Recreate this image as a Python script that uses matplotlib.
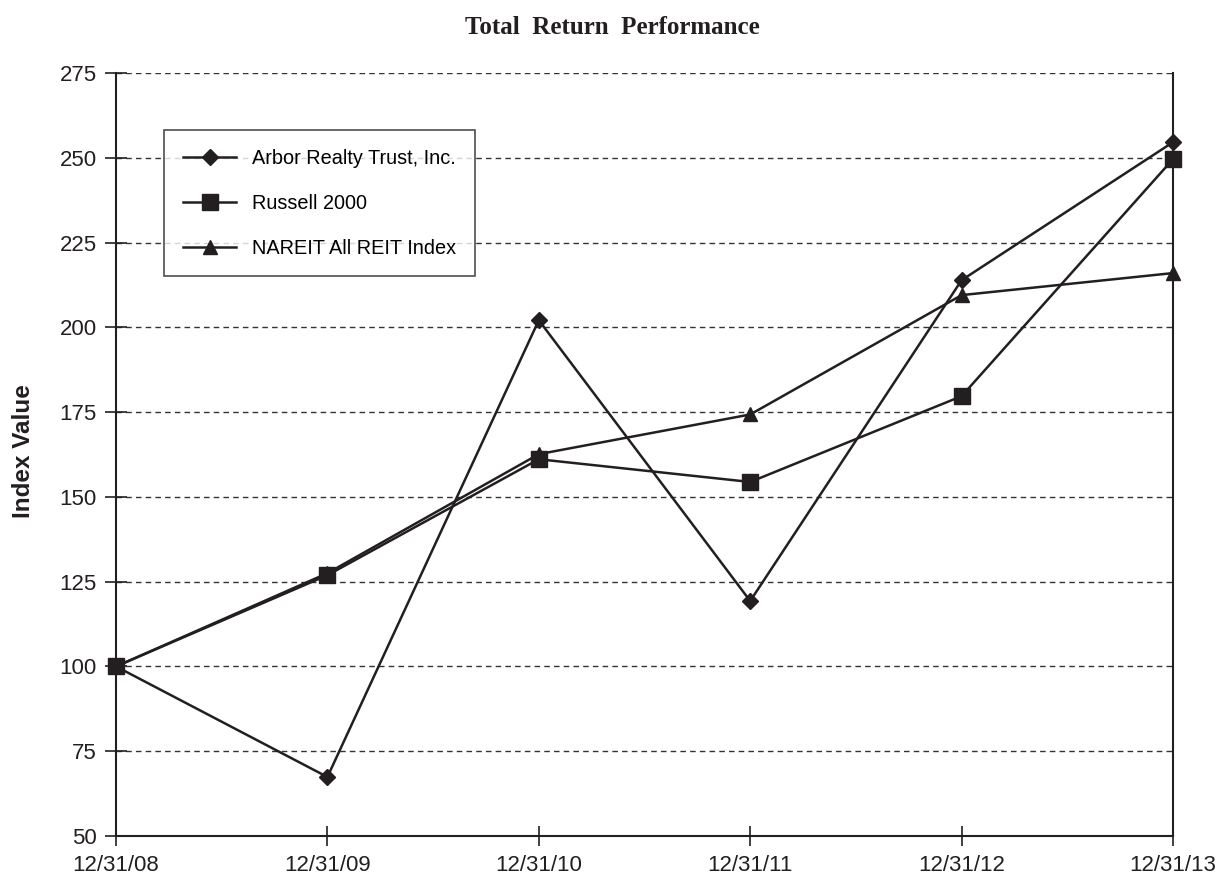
import matplotlib
matplotlib.use("Agg")
import matplotlib.pyplot as plt

dates = ["12/31/08", "12/31/09", "12/31/10", "12/31/11", "12/31/12", "12/31/13"]
arbor = [100, 67.4, 202.1, 119.3, 213.9, 254.6]
russell = [100, 126.9, 161.1, 154.4, 179.7, 249.6]
nareit = [100, 127.5, 162.6, 174.3, 209.5, 216.0]
yticks = [50, 75, 100, 125, 150, 175, 200, 225, 250, 275]

ink = "#231f20"
plt.rcParams['font.family'] = ['Liberation Sans', 'DejaVu Sans']

fig = plt.figure(figsize=(12.2, 8.75), dpi=100)
ax = fig.add_axes([116/1220, 1-836/875, 1057/1220, 763/875])

x = list(range(len(dates)))
ax.plot(x, arbor, color=ink, lw=1.8, marker='D', ms=8.5, label="Arbor Realty Trust, Inc.", clip_on=False, zorder=3)
ax.plot(x, russell, color=ink, lw=1.8, marker='s', ms=11, label="Russell 2000", clip_on=False, zorder=3)
ax.plot(x, nareit, color=ink, lw=1.8, marker='^', ms=10.5, label="NAREIT All REIT Index", clip_on=False, zorder=3)

ax.set_xlim(0, 5)
ax.set_ylim(50, 275)
ax.set_xticks(x)
ax.set_xticklabels(dates)
ax.set_yticks(yticks)
ax.tick_params(axis='both', labelsize=16, colors=ink, direction='inout', width=1.2)
ax.tick_params(axis='x', length=14, pad=6.5)
ax.tick_params(axis='y', length=16, pad=6)

for y in yticks[1:]:
    ax.axhline(y, color='#333333', lw=1.0, ls=(0, (4, 3)), zorder=1)

ax.spines['top'].set_visible(False)
for s in ['left', 'right', 'bottom']:
    ax.spines[s].set_color(ink)
    ax.spines[s].set_linewidth(1.5)

ax.set_ylabel("Index Value", fontsize=17.5, fontweight='bold', color=ink, va='center')
ax.yaxis.set_label_coords((24-116)/1057, 0.505)

fig.text(612/1220, 1-28/875, "Total  Return  Performance", ha='center', va='center',
         fontsize=18, fontweight='bold', family=['Liberation Serif', 'DejaVu Serif'], color=ink)

leg = ax.legend(loc='upper left', bbox_to_anchor=((164-116)/1057, (836-130)/763),
                borderaxespad=0, fontsize=14.3, frameon=True, fancybox=False,
                edgecolor=ink, labelspacing=1.3, handlelength=2.7, handletextpad=0.8,
                borderpad=0.95, markerscale=1.0)
leg.get_frame().set_linewidth(1.2)
leg.set_zorder(5)

fig.savefig("out.png", dpi=100, facecolor='white')
